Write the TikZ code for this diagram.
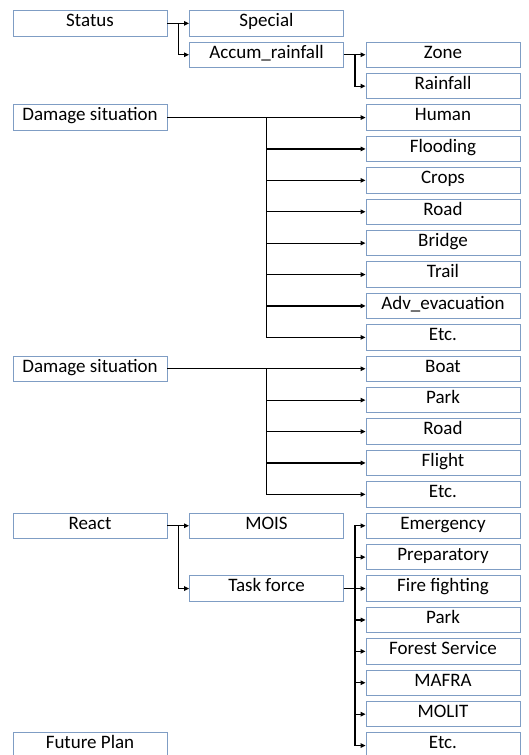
\documentclass[tikz,border=0pt]{standalone}
\usepackage{fontspec}
\setmainfont{Carlito}
\usetikzlibrary{arrows.meta}

\definecolor{boxline}{RGB}{127,157,196}

\tikzset{
  box/.style={draw=boxline, line width=0.9pt, fill=white, minimum width=154pt,
    minimum height=25.5pt, inner sep=0pt, text height=13pt, text depth=6.5pt,
    font=\fontsize{19}{22}\selectfont},
  arr/.style={line width=1.2pt, -{Triangle[length=5pt,width=4.5pt]}}
}

\begin{document}
\begin{tikzpicture}[x=1pt, y=-1pt]
    \useasboundingbox (0,0) rectangle (529,755);
    % columns
    \def\ca{90} \def\cb{266.5} \def\cc{443}
    % first block
    \node[box] (Status) at (\ca,23.35) {Status};
    \node[box] (Special) at (\cb,23.35) {Special};
    \node[box] (Accum) at (\cb,54.75) {Accum\_rainfall};
    \node[box] (Zone) at (\cc,54.75) {Zone};
    \node[box] (Rainfall) at (\cc,86.15) {Rainfall};
    \draw[arr] (Status.east) -- ++(11,0) |- (Special.west);
    \draw[arr] (Status.east) -- ++(11,0) |- (Accum.west);
    \draw[arr] (Accum.east) -- ++(11,0) |- (Zone.west);
    \draw[arr] (Accum.east) -- ++(11,0) |- (Rainfall.west);
    % damage situation
    \node[box] (DamA) at (\ca,117.55) {Damage situation};
    \foreach \t [count=\i from 0] in {Human,Flooding,Crops,Road,Bridge,Trail,Adv\_evacuation,Etc.}{
      \node[box] (DA\i) at (\cc,117.55+31.4*\i) {\t};
      \draw[arr] (DamA.east) -- ++(99,0) |- (DA\i.west);
    }
    \node[box] (DamB) at (\ca,368.75) {Damage situation};
    \foreach \t [count=\i from 0] in {Boat,Park,Road,Flight,Etc.}{
      \node[box] (DB\i) at (\cc,368.75+31.4*\i) {\t};
      \draw[arr] (DamB.east) -- ++(99,0) |- (DB\i.west);
    }
    % react
    \node[box] (React) at (\ca,525.75) {React};
    \node[box] (MOIS) at (\cb,525.75) {MOIS};
    \node[box] (Task) at (\cb,588.55) {Task force};
    \draw[arr] (React.east) -- ++(11,0) |- (MOIS.west);
    \draw[arr] (React.east) -- ++(11,0) |- (Task.west);
    \foreach \t [count=\i from 0] in {Emergency,Preparatory,Fire fighting,Park,Forest Service,MAFRA,MOLIT,Etc.}{
      \node[box] (TF\i) at (\cc,525.75+31.4*\i) {\t};
      \draw[arr] (Task.east) -- ++(11,0) |- (TF\i.west);
    }
    \node[box] (Future) at (\ca,745.55) {Future Plan};
\end{tikzpicture}
\end{document}
